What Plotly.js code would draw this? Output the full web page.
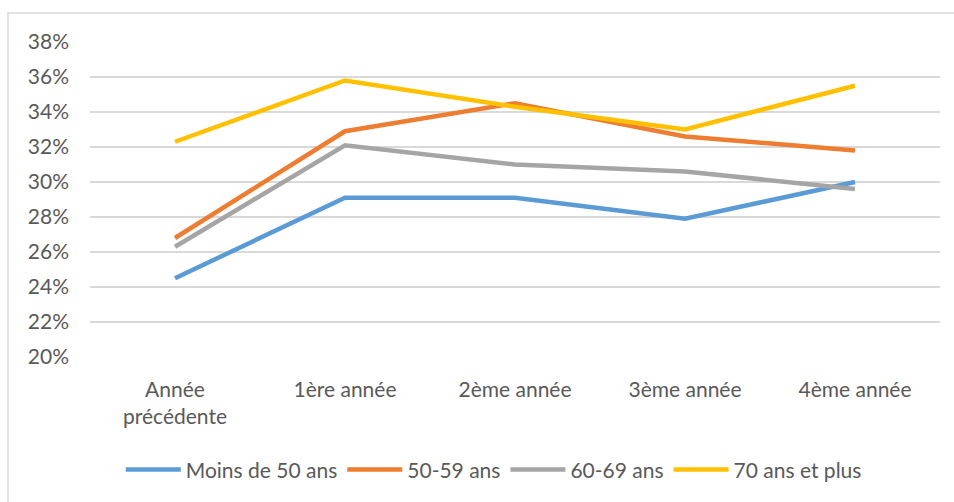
<!DOCTYPE html>
<html>
<head>
<meta charset="utf-8">
<script src="https://cdn.plot.ly/plotly-3.0.1.min.js"></script>
<style>
html,body{margin:0;padding:0;background:#fff;}
#chart{width:954px;height:502px;}
</style>
</head>
<body>
<div id="chart"></div>
<script>
const categories = ["Année<br>précédente", "1ère année", "2ème année", "3ème année", "4ème année"];
const seriesNames = ["Moins de 50 ans", "50-59 ans", "60-69 ans", "70 ans et plus"];
const moins50 = [0.245, 0.291, 0.291, 0.279, 0.300];
const s50_59 = [0.268, 0.329, 0.345, 0.326, 0.318];
const s60_69 = [0.263, 0.321, 0.310, 0.306, 0.296];
const s70plus = [0.323, 0.358, 0.343, 0.330, 0.355];
const colors = ["#5B9BD5", "#ED7D31", "#A5A5A5", "#FFC000"];
const yTickVals = [0.20, 0.22, 0.24, 0.26, 0.28, 0.30, 0.32, 0.34, 0.36, 0.38];

const allSeries = [moins50, s50_59, s60_69, s70plus];
const traces = allSeries.map((vals, i) => ({
  type: "scatter",
  mode: "lines",
  x: categories,
  y: vals,
  name: seriesNames[i],
  line: {color: colors[i], width: 4.5},
  hoverinfo: "skip"
}));

const font = {family: "Lato, 'Open Sans', sans-serif", size: 21, color: "#595959"};

const layout = {
  width: 954,
  height: 502,
  margin: {l: 90, r: 14, t: 42, b: 145},
  paper_bgcolor: "#ffffff",
  plot_bgcolor: "#ffffff",
  font: font,
  showlegend: true,
  legend: {
    orientation: "h",
    x: 0.475,
    xanchor: "center",
    y: -0.358,
    yanchor: "middle",
    font: font,
    itemwidth: 55,
    traceorder: "normal"
  },
  xaxis: {
    type: "category",
    showgrid: false,
    zeroline: false,
    showline: false,
    ticks: "",
    tickfont: font,
    ticklabelstandoff: 18,
    range: [-0.5, 4.5],
    fixedrange: true
  },
  yaxis: {
    range: [0.20, 0.38],
    tickvals: yTickVals,
    tickformat: ".0%",
    showgrid: true,
    gridcolor: "#D9D9D9",
    gridwidth: 1.3,
    zeroline: false,
    showline: false,
    ticks: "",
    tickfont: font,
    ticklabelstandoff: 20,
    fixedrange: true
  },
  shapes: [{
    type: "rect",
    xref: "paper", yref: "paper",
    x0: -0.0965, x1: 1.2,
    y0: -0.7, y1: 1.092,
    line: {color: "#D9D9D9", width: 1.5},
    fillcolor: "rgba(0,0,0,0)",
    layer: "below"
  }]
};

Plotly.newPlot("chart", traces, layout, {displayModeBar: false, staticPlot: true});
</script>
</body>
</html>
